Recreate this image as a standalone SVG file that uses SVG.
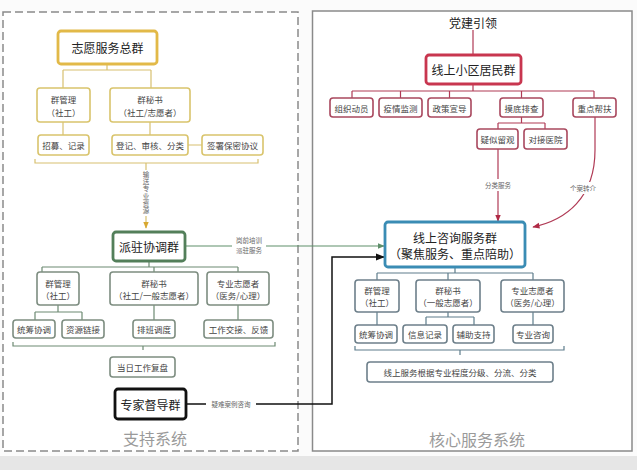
<svg xmlns="http://www.w3.org/2000/svg" width="637" height="470" viewBox="0 0 637 470">
<defs>
<style>
text{font-family:"Noto Sans CJK SC","Liberation Sans",sans-serif;fill:#333;text-anchor:middle;dominant-baseline:central}
.main{font-size:12px;fill:#222}
.sub{font-size:8.5px;fill:#444}
.lbl{font-size:6.5px;fill:#666}
.vert{writing-mode:vertical-rl;text-orientation:upright;letter-spacing:0.8px}
.sys{font-size:16px;fill:#9a9a9a}
.b{fill:#fff;rx:3;ry:3}
.y{stroke:#d9c46c;stroke-width:1.6}
.ym{stroke:#e2b948;stroke-width:2.8}
.g{stroke:#7d8d80;stroke-width:1.6}
.gm{stroke:#537f5a;stroke-width:2.8}
.r{stroke:#a9485e;stroke-width:1.6}
.rm{stroke:#c8364f;stroke-width:2.8}
.u{stroke:#6d7f8a;stroke-width:1.6}
.um{stroke:#3a8cb4;stroke-width:2.8}
.km{stroke:#111;stroke-width:2.8}
.ly{fill:none;stroke:#d8c070;stroke-width:1.2}
.lg{fill:none;stroke:#6d8a72;stroke-width:1.2}
.lr{fill:none;stroke:#b03a55;stroke-width:1.2}
.lu{fill:none;stroke:#5e7d8c;stroke-width:1.2}
</style>
<marker id="ay" viewBox="0 0 10 10" refX="9" refY="5" markerWidth="6" markerHeight="6" orient="auto"><path d="M0,1L10,5L0,9z" fill="#d8a830"/></marker>
<marker id="ag" viewBox="0 0 10 10" refX="9" refY="5" markerWidth="6" markerHeight="6" orient="auto"><path d="M0,1L10,5L0,9z" fill="#5f8f6a"/></marker>
<marker id="ak" viewBox="0 0 10 10" refX="9" refY="5" markerWidth="6" markerHeight="6" orient="auto"><path d="M0,1L10,5L0,9z" fill="#111"/></marker>
<marker id="ar" viewBox="0 0 10 10" refX="9" refY="5" markerWidth="6" markerHeight="6" orient="auto"><path d="M0,1L10,5L0,9z" fill="#b02a45"/></marker>
</defs>
<rect x="0" y="0" width="637" height="470" fill="#fbfbfb"/>
<rect x="0" y="456" width="637" height="14" fill="#e6e6e6"/>
<g id="frames">
<rect x="3" y="12" width="295" height="439" fill="#fff" stroke="#8a8a8a" stroke-width="1.5" stroke-dasharray="8 4"/>
<rect x="312.5" y="11" width="319.5" height="440" fill="#fff" stroke="#8a8a8a" stroke-width="1.5"/>
<text class="sys" x="155" y="438">支持系统</text>
<text class="sys" x="477" y="439">核心服务系统</text>
<text class="main" x="473" y="22">党建引领</text>
</g>
<g id="connectors">
<path class="ly" d="M107,64V70M63,70H151M63,70V88M151,70V88M63,122V135M150,122V135M188,145H202"/>
<path class="ly" d="M35,159V163H258V159M146,163V228" marker-end="url(#ay)"/>
<path class="lg" d="M149,261V267M42,267H238M42,267V272M154,267V272M238,267V272M58,305V312M35,312H82M35,312V320M82,312V320M154,305V320M238,305V320"/>
<path class="lg" d="M13,342V346H275V342M143,346V350"/>
<path class="lr" d="M473,30V55M473,84V91M352,91H594M352,91V98M400.5,91V98M449.5,91V98M521.5,91V98M594,91V98M521.5,117V123M498,123H545M498,123V129M545,123V129"/>
<path class="lr" d="M498,149V221" marker-end="url(#ar)"/>
<path class="lr" d="M595,117V150C595,198 566,220 533,227" marker-end="url(#ar)"/>
<path class="lu" d="M455,267V273M377,273H533M377,273V280M448,273V280M533,273V280M377,312V325M448,312V317M426,317H474M426,317V325M474,317V325M533,312V325"/>
<path class="lu" d="M355,346V350H564V346M460,350V355"/>
<path fill="none" stroke="#5f8f6a" stroke-width="1.2" d="M185,246H384" marker-end="url(#ag)"/>
<path fill="none" stroke="#111" stroke-width="1.5" d="M186,404H332V257H384" marker-end="url(#ak)"/>
<rect x="141" y="170" width="10" height="46" fill="#fff"/>
<text class="lbl vert" x="146" y="193">输送专业资源</text>
<rect x="232" y="235" width="34" height="21" fill="#fff"/>
<text class="lbl" x="249" y="240">岗前培训</text>
<text class="lbl" x="249" y="250">派驻服务</text>
<rect x="206" y="399" width="50" height="10" fill="#fff"/>
<text class="lbl" x="231" y="404">疑难案例咨询</text>
<rect x="482" y="179" width="32" height="12" fill="#fff"/>
<text class="lbl" x="498" y="185">分类服务</text>
<rect x="569" y="182" width="28" height="12" fill="#fff"/>
<text class="lbl" x="583" y="188">个案转介</text>
</g>
<g id="n-zyfwzq"><rect class="b ym" x="58" y="31" width="99" height="33"/><text class="main" x="107.5" y="47.5">志愿服务总群</text></g>
<g id="n-l1-qgl"><rect class="b y" x="37" y="88" width="53" height="34"/><text class="sub" x="63.5" y="99">群管理</text><text class="sub" x="63.5" y="112">（社工）</text></g>
<g id="n-l1-qms"><rect class="b y" x="110" y="88" width="80" height="34"/><text class="sub" x="150" y="99">群秘书</text><text class="sub" x="150" y="112">（社工/志愿者）</text></g>
<g id="n-l1-zm"><rect class="b y" x="38" y="135" width="51" height="20"/><text class="sub" x="63.5" y="145">招募、记录</text></g>
<g id="n-l1-dj"><rect class="b y" x="112" y="135" width="76" height="20"/><text class="sub" x="150" y="145">登记、审核、分类</text></g>
<g id="n-l1-qs"><rect class="b y" x="202" y="135" width="61" height="20"/><text class="sub" x="232.5" y="145">签署保密协议</text></g>
<g id="n-pzxtq"><rect class="b gm" x="113" y="232" width="72" height="29"/><text class="main" x="149" y="246.5">派驻协调群</text></g>
<g id="n-l2-qgl"><rect class="b g" x="37" y="272" width="42" height="33"/><text class="sub" x="58" y="282.5">群管理</text><text class="sub" x="58" y="295">（社工）</text></g>
<g id="n-l2-qms"><rect class="b g" x="110" y="272" width="88" height="33"/><text class="sub" x="154" y="282.5">群秘书</text><text class="sub" x="154" y="295">（社工/一般志愿者）</text></g>
<g id="n-l2-zy"><rect class="b g" x="207" y="272" width="62" height="33"/><text class="sub" x="238" y="282.5">专业志愿者</text><text class="sub" x="238" y="295">（医务/心理）</text></g>
<g id="n-l2-tc"><rect class="b g" x="13" y="320" width="42" height="18"/><text class="sub" x="34" y="329">统筹协调</text></g>
<g id="n-l2-zl"><rect class="b g" x="62" y="320" width="42" height="18"/><text class="sub" x="83" y="329">资源链接</text></g>
<g id="n-l2-pb"><rect class="b g" x="133" y="320" width="42" height="18"/><text class="sub" x="154" y="329">排班调度</text></g>
<g id="n-l2-gz"><rect class="b g" x="204" y="320" width="69" height="18"/><text class="sub" x="238.5" y="329">工作交接、反馈</text></g>
<g id="n-l2-fp"><rect class="b g" x="110" y="357" width="65" height="20"/><text class="sub" x="142.5" y="367">当日工作复盘</text></g>
<g id="n-zjddq"><rect class="b km" x="115" y="389" width="71" height="30"/><text class="main" x="150.5" y="404">专家督导群</text></g>
<g id="n-xsxqjmq"><rect class="b rm" x="426" y="55" width="95" height="29"/><text class="main" x="473.5" y="69.5">线上小区居民群</text></g>
<g id="n-r1-zz"><rect class="b r" x="330" y="98" width="43" height="19"/><text class="sub" x="351.5" y="107.5">组织动员</text></g>
<g id="n-r1-yq"><rect class="b r" x="379" y="98" width="43" height="19"/><text class="sub" x="400.5" y="107.5">疫情监测</text></g>
<g id="n-r1-zc"><rect class="b r" x="428" y="98" width="43" height="19"/><text class="sub" x="449.5" y="107.5">政策宣导</text></g>
<g id="n-r1-md"><rect class="b r" x="500" y="98" width="43" height="19"/><text class="sub" x="521.5" y="107.5">摸底排查</text></g>
<g id="n-r1-zd"><rect class="b r" x="573" y="98" width="43" height="19"/><text class="sub" x="594.5" y="107.5">重点帮扶</text></g>
<g id="n-r1-ys"><rect class="b r" x="477" y="129" width="41" height="20"/><text class="sub" x="497.5" y="139">疑似留观</text></g>
<g id="n-r1-dj"><rect class="b r" x="524" y="129" width="43" height="20"/><text class="sub" x="545.5" y="139">对接医院</text></g>
<g id="n-xszxfwq"><rect class="b um" x="385" y="222" width="140" height="45"/><text class="main" x="455" y="237">线上咨询服务群</text><text class="main" x="455" y="253">（聚焦服务、重点陪助）</text></g>
<g id="n-r2-qgl"><rect class="b u" x="355" y="280" width="44" height="32"/><text class="sub" x="377" y="290">群管理</text><text class="sub" x="377" y="302">（社工）</text></g>
<g id="n-r2-qms"><rect class="b u" x="416" y="280" width="64" height="32"/><text class="sub" x="448" y="290">群秘书</text><text class="sub" x="448" y="302">（一般志愿者）</text></g>
<g id="n-r2-zy"><rect class="b u" x="501" y="280" width="63" height="32"/><text class="sub" x="532.5" y="290">专业志愿者</text><text class="sub" x="532.5" y="302">（医务/心理）</text></g>
<g id="n-r2-tc"><rect class="b u" x="355" y="325" width="42" height="18"/><text class="sub" x="376" y="334">统筹协调</text></g>
<g id="n-r2-xx"><rect class="b u" x="403" y="325" width="44" height="18"/><text class="sub" x="425" y="334">信息记录</text></g>
<g id="n-r2-fz"><rect class="b u" x="453" y="325" width="41" height="18"/><text class="sub" x="473.5" y="334">辅助支持</text></g>
<g id="n-r2-zx"><rect class="b u" x="513" y="325" width="40" height="18"/><text class="sub" x="533" y="334">专业咨询</text></g>
<g id="n-r2-fj"><rect class="b u" x="367" y="362" width="186" height="20"/><text class="sub" x="460" y="372">线上服务根据专业程度分级、分流、分类</text></g>
</svg>
